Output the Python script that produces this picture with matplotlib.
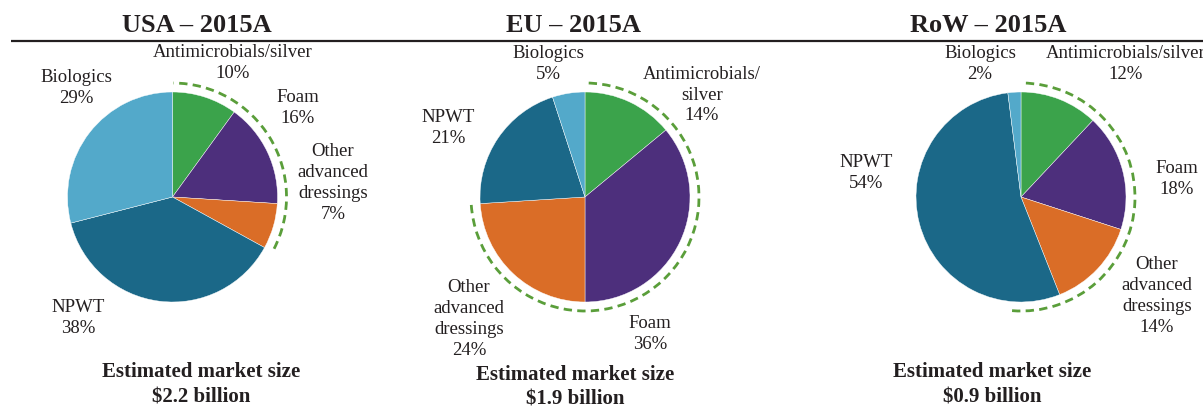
import matplotlib.pyplot as plt
from matplotlib.patches import Arc

plt.rcParams['font.family'] = ['Liberation Serif', 'DejaVu Serif']

# segment order, clockwise from 12 o'clock
segments = ['Antimicrobials/silver', 'Foam', 'Other advanced dressings', 'NPWT', 'Biologics']
colors = ['#3ba34b', '#4d2f7c', '#da6d27', '#1b6888', '#53a9ca']

regions = ['USA', 'EU', 'RoW']
titles = ['USA – 2015A', 'EU – 2015A', 'RoW – 2015A']
usa_share = [10, 16, 7, 38, 29]
eu_share = [14, 36, 24, 21, 5]
row_share = [12, 18, 14, 54, 2]
market_size = ['$2.2 billion', '$1.9 billion', '$0.9 billion']

# label text per region (same order as segments)
usa_labels = ['Antimicrobials/silver', 'Foam', 'Other\nadvanced\ndressings', 'NPWT', 'Biologics']
eu_labels = ['Antimicrobials/\nsilver', 'Foam', 'Other\nadvanced\ndressings', 'NPWT', 'Biologics']
row_labels = ['Antimicrobials/silver', 'Foam', 'Other\nadvanced\ndressings', 'NPWT', 'Biologics']

# layout (pixel coordinates, y measured from the top)
W, H = 1203, 407
pie_x = [172.5, 585, 1021]
pie_y = 197
radius = 105
arc_r = 114
arc_end = [-27, -176, -94.5]   # where the dashed "advanced dressings" arc stops
title_x = [197, 573, 988]
foot_x = [201, 575, 992]
foot_y = [372, 375, 372]
label_pos = [
    [(233, 63), (298, 108), (333, 183), (78, 318), (76, 88)],
    [(702, 95), (650, 334), (469, 319), (448, 128), (548, 64)],
    [(1126, 64), (1177, 179), (1157, 296), (866, 173), (980, 64)],
]

fig = plt.figure(figsize=(W / 100, H / 100), dpi=100)
ax = fig.add_axes([0, 0, 1, 1])

def fy(y):
    return H - y

txt = '#231f20'
shares = [usa_share, eu_share, row_share]
labels = [usa_labels, eu_labels, row_labels]

for i in range(3):
    ax.pie(shares[i], colors=colors, startangle=90, counterclock=False,
           center=(pie_x[i], fy(pie_y)), radius=radius,
           wedgeprops=dict(edgecolor='white', linewidth=0.3))
    ax.add_patch(Arc((pie_x[i], fy(pie_y)), 2 * arc_r, 2 * arc_r,
                     theta1=arc_end[i], theta2=89.5, color='#5a9e3a',
                     lw=2.0, linestyle=(0, (3.0, 1.9))))
    for j in range(5):
        lx, ly = label_pos[i][j]
        ax.text(lx, fy(ly), labels[i][j] + '\n' + str(shares[i][j]) + '%',
                ha='center', va='center', fontsize=13.5, color=txt,
                linespacing=1.3)
    ax.text(title_x[i], fy(25), titles[i], ha='center', va='center',
            fontsize=19, fontweight='bold', color=txt)
    ax.text(foot_x[i], fy(foot_y[i]), 'Estimated market size', ha='center',
            va='center', fontsize=15, fontweight='bold', color=txt)
    ax.text(foot_x[i], fy(foot_y[i] + 25), market_size[i], ha='center',
            va='center', fontsize=15, fontweight='bold', color=txt)

ax.plot([11, W], [fy(41), fy(41)], color=txt, lw=1.6, solid_capstyle='butt')

ax.set_xlim(0, W)
ax.set_ylim(0, H)
ax.set_aspect('auto')
ax.axis('off')

fig.savefig('out.png', dpi=100)
